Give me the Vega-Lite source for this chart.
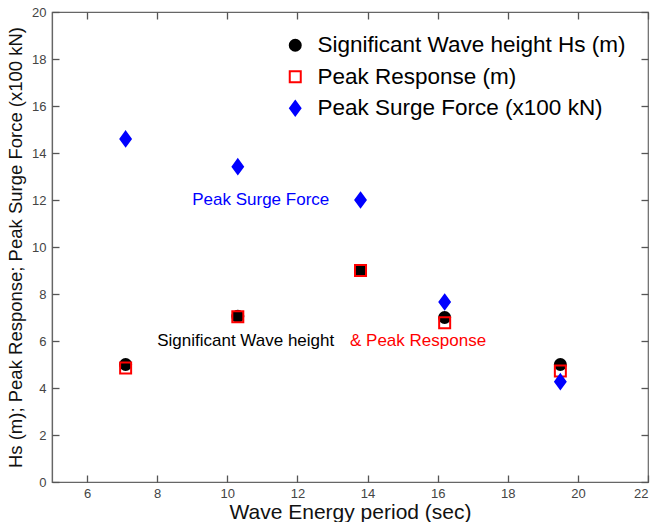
{
  "$schema": "https://vega.github.io/schema/vega-lite/v6.json",
  "width": 596,
  "height": 470,
  "autosize": {"type": "none"},
  "padding": {"left": 52, "top": 12, "right": 8, "bottom": 40},
  "background": "white",
  "config": {
    "font": "Liberation Sans",
    "view": {"stroke": "#666", "strokeWidth": 1.2},
    "axis": {
      "grid": false,
      "domainColor": "#666",
      "domainWidth": 1.2,
      "tickColor": "#555",
      "tickWidth": 1.3,
      "labelColor": "#444",
      "labelFontSize": 13,
      "labelFont": "Liberation Sans",
      "titleFont": "Liberation Sans",
      "titleFontWeight": "normal",
      "titleColor": "#111"
    },
    "legend": {"labelLimit": 500}
  },
  "datasets": {
    "points": [
      {"T": 7.1, "series": "Significant Wave height Hs (m)", "value": 5.0},
      {"T": 10.3, "series": "Significant Wave height Hs (m)", "value": 7.05},
      {"T": 13.8, "series": "Significant Wave height Hs (m)", "value": 9.0},
      {"T": 16.2, "series": "Significant Wave height Hs (m)", "value": 7.0},
      {"T": 19.5, "series": "Significant Wave height Hs (m)", "value": 5.0},
      {"T": 7.1, "series": "Peak Response (m)", "value": 4.85},
      {"T": 10.3, "series": "Peak Response (m)", "value": 7.03},
      {"T": 13.8, "series": "Peak Response (m)", "value": 9.0},
      {"T": 16.2, "series": "Peak Response (m)", "value": 6.78},
      {"T": 19.5, "series": "Peak Response (m)", "value": 4.72},
      {"T": 7.1, "series": "Peak Surge Force (x100 kN)", "value": 14.6},
      {"T": 10.3, "series": "Peak Surge Force (x100 kN)", "value": 13.42},
      {"T": 13.8, "series": "Peak Surge Force (x100 kN)", "value": 12.0},
      {"T": 16.2, "series": "Peak Surge Force (x100 kN)", "value": 7.66},
      {"T": 19.5, "series": "Peak Surge Force (x100 kN)", "value": 4.27}
    ],
    "notes": [
      {"T": 9.0, "value": 12.0, "note": "Peak Surge Force"},
      {"T": 8.0, "value": 6.0, "note": "Significant Wave height"},
      {"T": 13.5, "value": 6.0, "note": "& Peak Response"}
    ]
  },
  "layer": [
    {
      "data": {"name": "points"},
      "mark": {"type": "point", "filled": true, "opacity": 1, "strokeWidth": 2},
      "encoding": {
        "x": {
          "field": "T", "type": "quantitative",
          "scale": {"domain": [5, 22], "nice": false, "zero": false},
          "axis": {"values": [6, 8, 10, 12, 14, 16, 18, 20, 22], "ticks": false, "tickSize": 0, "labelPadding": 5, "title": "Wave Energy period (sec)", "titleFontSize": 21, "titlePadding": 1}
        },
        "y": {
          "field": "value", "type": "quantitative",
          "scale": {"domain": [0, 20], "nice": false},
          "axis": {"values": [0, 2, 4, 6, 8, 10, 12, 14, 16, 18, 20], "ticks": false, "tickSize": 0, "labelPadding": 6, "title": "Hs (m); Peak Response; Peak Surge Force (x100 kN)", "titleFontSize": 18.5, "titlePadding": 6}
        },
        "shape": {
          "field": "series", "type": "nominal",
          "scale": {"domain": ["Significant Wave height Hs (m)", "Peak Response (m)", "Peak Surge Force (x100 kN)"], "range": ["circle", "square", "M0,-1.3L0.95,0L0,1.3L-0.95,0Z"]},
          "legend": {"title": null, "orient": "none", "legendX": 232, "legendY": 22, "labelFontSize": 22.5, "labelFont": "Liberation Sans", "labelColor": "#000", "labelOffset": 11, "rowPadding": 8.5, "symbolStrokeWidth": 2, "symbolOpacity": 1}
        },
        "fill": {
          "field": "series", "type": "nominal",
          "scale": {"domain": ["Significant Wave height Hs (m)", "Peak Response (m)", "Peak Surge Force (x100 kN)"], "range": ["#000000", "transparent", "#0000ff"]},
          "legend": {"title": null, "orient": "none", "legendX": 232, "legendY": 22, "labelFontSize": 22.5, "labelFont": "Liberation Sans", "labelColor": "#000", "labelOffset": 11, "rowPadding": 8.5, "symbolStrokeWidth": 2, "symbolOpacity": 1}
        },
        "stroke": {
          "field": "series", "type": "nominal",
          "scale": {"domain": ["Significant Wave height Hs (m)", "Peak Response (m)", "Peak Surge Force (x100 kN)"], "range": ["#000000", "#ff0000", "#0000ff"]},
          "legend": {"title": null, "orient": "none", "legendX": 232, "legendY": 22, "labelFontSize": 22.5, "labelFont": "Liberation Sans", "labelColor": "#000", "labelOffset": 11, "rowPadding": 8.5, "symbolStrokeWidth": 2, "symbolOpacity": 1}
        },
        "size": {
          "field": "series", "type": "nominal",
          "scale": {"domain": ["Significant Wave height Hs (m)", "Peak Response (m)", "Peak Surge Force (x100 kN)"], "range": [121, 121, 237]},
          "legend": {"title": null, "orient": "none", "legendX": 232, "legendY": 22, "labelFontSize": 22.5, "labelFont": "Liberation Sans", "labelColor": "#000", "labelOffset": 11, "rowPadding": 8.5, "symbolStrokeWidth": 2, "symbolOpacity": 1}
        }
      }
    },
    {
      "data": {"name": "points"},
      "mark": {"type": "point", "opacity": 0},
      "encoding": {
        "x": {"field": "T", "type": "quantitative", "axis": {"orient": "top", "offset": -7, "values": [6, 8, 10, 12, 14, 16, 18, 20, 22], "ticks": true, "tickSize": 7, "labels": false, "title": null, "domain": false}},
        "y": {"field": "value", "type": "quantitative", "axis": {"orient": "right", "offset": -7, "values": [0, 2, 4, 6, 8, 10, 12, 14, 16, 18, 20], "ticks": true, "tickSize": 7, "labels": false, "title": null, "domain": false}}
      }
    },
    {
      "data": {"name": "points"},
      "mark": {"type": "point", "opacity": 0},
      "encoding": {
        "x": {"field": "T", "type": "quantitative", "axis": {"orient": "bottom", "offset": -7, "values": [6, 8, 10, 12, 14, 16, 18, 20, 22], "ticks": true, "tickSize": 7, "labels": false, "title": null, "domain": false}},
        "y": {"field": "value", "type": "quantitative", "axis": {"orient": "left", "offset": -7, "values": [0, 2, 4, 6, 8, 10, 12, 14, 16, 18, 20], "ticks": true, "tickSize": 7, "labels": false, "title": null, "domain": false}}
      }
    },
    {
      "data": {"name": "notes"},
      "mark": {"type": "text", "align": "left", "baseline": "middle", "fontSize": 17, "font": "Liberation Sans"},
      "encoding": {
        "x": {"field": "T", "type": "quantitative", "axis": null},
        "y": {"field": "value", "type": "quantitative", "axis": null},
        "text": {"field": "note"},
        "color": {
          "field": "note",
          "type": "nominal",
          "scale": {"domain": ["Peak Surge Force", "Significant Wave height", "& Peak Response"], "range": ["#0000ff", "#000000", "#ff0000"]},
          "legend": null
        }
      }
    }
  ],
  "resolve": {"axis": {"x": "independent", "y": "independent"}}
}
